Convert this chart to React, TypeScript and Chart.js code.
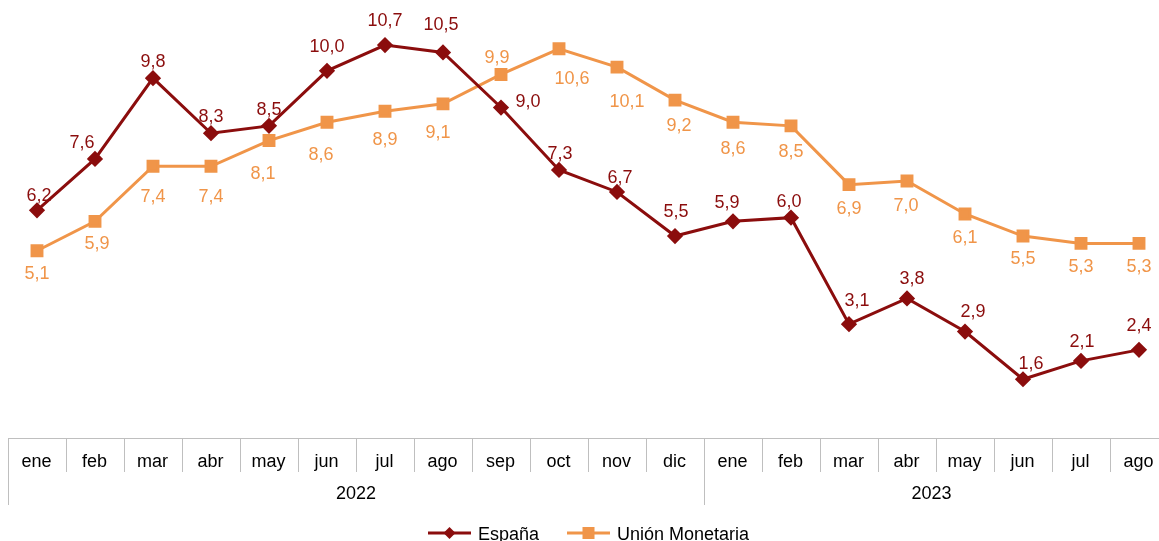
import React, { useEffect, useRef } from "react";
import { Chart, registerables } from "chart.js";

Chart.register(...registerables);

const months = ["ene", "feb", "mar", "abr", "may", "jun", "jul", "ago", "sep", "oct", "nov", "dic", "ene", "feb", "mar", "abr", "may", "jun", "jul", "ago"];
const years = ["2022", "2023"];
const yearSpans = [12, 8];
const espana = [6.2, 7.6, 9.8, 8.3, 8.5, 10.0, 10.7, 10.5, 9.0, 7.3, 6.7, 5.5, 5.9, 6.0, 3.1, 3.8, 2.9, 1.6, 2.1, 2.4];
const union = [5.1, 5.9, 7.4, 7.4, 8.1, 8.6, 8.9, 9.1, 9.9, 10.6, 10.1, 9.2, 8.6, 8.5, 6.9, 7.0, 6.1, 5.5, 5.3, 5.3];
const seriesNames = ["España", "Unión Monetaria"];

// label placement styles (offsets in px relative to point)
const espanaLabelOffsets = [[2, -16], [-13, -18], [0, -18], [0, -18], [0, -18], [0, -26], [0, -26], [-2, -29], [27, -7], [1, -18], [3, -16], [1, -26], [-6, -20], [-2, -18], [8, -25], [5, -21], [8, -21], [8, -17], [1, -21], [0, -26]];
const unionLabelOffsets = [[0, 21], [2, 21], [0, 29], [0, 29], [-6, 31], [-6, 31], [0, 27], [-5, 27], [-4, -18], [13, 28], [10, 33], [4, 24], [0, 25], [0, 24], [0, 22], [-1, 23], [0, 22], [0, 21], [0, 22], [0, 22]];

const RED = "#8B0D0D";
const ORANGE = "#F09549";
const GRID = "#BFBFBF";
const FONT = "18px 'Liberation Sans', Arial, sans-serif";
const TEXT_DY = 2;

const fmt = (v: number) => v.toFixed(1).replace(".", ",");

const customPlugin = {
  id: "custom",
  afterDatasetsDraw(chart: any) {
    const ctx = chart.ctx;
    const xs = chart.scales.x;
    ctx.save();
    ctx.font = FONT;
    ctx.textAlign = "center";
    ctx.textBaseline = "middle";
    const metaE = chart.getDatasetMeta(0);
    const metaU = chart.getDatasetMeta(1);
    metaE.data.forEach((p: any, i: number) => {
      ctx.fillStyle = RED;
      ctx.fillText(fmt(espana[i]), p.x + espanaLabelOffsets[i][0], p.y + espanaLabelOffsets[i][1] + TEXT_DY);
    });
    metaU.data.forEach((p: any, i: number) => {
      ctx.fillStyle = ORANGE;
      ctx.fillText(fmt(union[i]), p.x + unionLabelOffsets[i][0], p.y + unionLabelOffsets[i][1] + TEXT_DY);
    });

    // axis
    const area = chart.chartArea;
    const y0 = area.bottom;
    const half = (xs.getPixelForValue(1) - xs.getPixelForValue(0)) / 2;
    ctx.strokeStyle = GRID;
    ctx.lineWidth = 1;
    ctx.beginPath();
    ctx.moveTo(area.left, y0 + 0.5);
    ctx.lineTo(area.right, y0 + 0.5);
    ctx.stroke();
    const yearBounds = new Set<number>();
    let acc = 0;
    yearBounds.add(0);
    yearSpans.forEach((s) => { acc += s; yearBounds.add(acc); });
    for (let i = 0; i <= months.length; i++) {
      const x = Math.round(xs.getPixelForValue(i) - half) + 0.5;
      const long = yearBounds.has(i);
      ctx.beginPath();
      ctx.moveTo(x, y0);
      ctx.lineTo(x, y0 + (long ? 67 : 34));
      ctx.stroke();
    }
    ctx.fillStyle = "#000";
    months.forEach((m, i) => {
      ctx.fillText(m, xs.getPixelForValue(i) - 0.5, y0 + 24);
    });
    let start = 0;
    years.forEach((yr, k) => {
      const end = start + yearSpans[k];
      const xa = xs.getPixelForValue(start) - half;
      const xb = Math.min(xs.getPixelForValue(end - 1) + half, 1159);
      ctx.fillText(yr, (xa + xb) / 2, y0 + 56);
      start = end;
    });

    // legend
    const ly = 533;
    const drawEntry = (x: number, color: string, shape: string, label: string) => {
      ctx.strokeStyle = color;
      ctx.lineWidth = 3;
      ctx.beginPath();
      ctx.moveTo(x, ly);
      ctx.lineTo(x + 43, ly);
      ctx.stroke();
      ctx.fillStyle = color;
      const cx = x + 21.5;
      if (shape === "diamond") {
        ctx.beginPath();
        ctx.moveTo(cx, ly - 6);
        ctx.lineTo(cx + 6, ly);
        ctx.lineTo(cx, ly + 6);
        ctx.lineTo(cx - 6, ly);
        ctx.closePath();
        ctx.fill();
      } else {
        ctx.fillRect(cx - 6, ly - 6, 12, 12);
      }
      ctx.fillStyle = "#000";
      ctx.textAlign = "left";
      ctx.fillText(label, x + 50, ly + 2);
    };
    drawEntry(428, RED, "diamond", seriesNames[0]);
    drawEntry(567, ORANGE, "square", seriesNames[1]);
    ctx.restore();
  },
};

export default function App() {
  const ref = useRef<HTMLCanvasElement | null>(null);
  useEffect(() => {
    if (!ref.current) return;
    const chart = new Chart(ref.current, {
      type: "line",
      data: {
        labels: months,
        datasets: [
          {
            label: seriesNames[0],
            data: espana,
            borderColor: RED,
            backgroundColor: RED,
            borderWidth: 3,
            pointStyle: "rectRot",
            pointRadius: 6,
            pointHoverRadius: 6,
            tension: 0,
          },
          {
            label: seriesNames[1],
            data: union,
            borderColor: ORANGE,
            backgroundColor: ORANGE,
            borderWidth: 3,
            pointStyle: "rect",
            pointRadius: 7,
            pointHoverRadius: 7,
            tension: 0,
          },
        ],
      },
      options: {
        responsive: false,
        animation: false,
        layout: { autoPadding: false, padding: { left: 8, right: 8, top: 8, bottom: 103 } },
        plugins: { legend: { display: false }, tooltip: { enabled: false } },
        scales: {
          x: { display: false, offset: true },
          y: { display: false, min: 0, max: 11.71 },
        },
      },
      plugins: [customPlugin],
    });
    return () => chart.destroy();
  }, []);
  return (
    <div style={{ position: "fixed", left: 0, top: 0, width: 1159, height: 541, overflow: "hidden", background: "#fff" }}>
      <canvas ref={ref} width={1176} height={541} style={{ display: "block" }} />
    </div>
  );
}
